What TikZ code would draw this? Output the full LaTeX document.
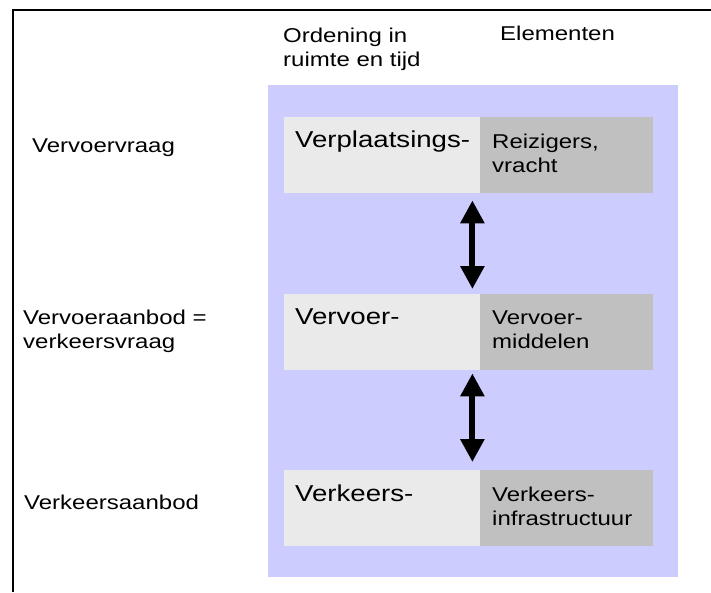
\documentclass[tikz,border=0pt]{standalone}
\usepackage{fontspec}
\newfontfamily\labfont[FakeStretch=1.2]{Liberation Sans}
\usetikzlibrary{arrows.meta}
\definecolor{bgpurple}{HTML}{CCCCFF}
\definecolor{lightfill}{HTML}{EAEAEA}
\definecolor{darkfill}{HTML}{C0C0C0}
\begin{document}
\begin{tikzpicture}[x=1pt,y=-1pt,
  small/.style={font=\labfont\fontsize{20}{24}\selectfont, inner sep=0pt, anchor=base west},
  big/.style={font=\labfont\fontsize{23}{27}\selectfont, inner sep=0pt, anchor=base west},
  panel/.style={fill=bgpurple, draw=none, inner sep=0pt, anchor=north west, minimum width=410pt, minimum height=492pt},
  lbox/.style={fill=lightfill, inner sep=0pt, anchor=north west, minimum width=196pt, minimum height=76pt},
  dbox/.style={fill=darkfill, inner sep=0pt, anchor=north west, minimum width=173pt, minimum height=76pt},
  dbl/.style={line width=6pt, {Triangle[length=23pt,width=23pt]}-{Triangle[length=23pt,width=23pt]}},
  frameline/.style={line width=1.6pt, draw=black}]
\useasboundingbox (0,0) rectangle (711,592);
\fill[white] (0,0) rectangle (711,592);
% frame
\coordinate (fb) at (13,592);
\coordinate (fc) at (13,10);
\coordinate (fr) at (711,10);
\draw[frameline] (fb) -- (fc) -- (fr);
% headers
\node[small] (h1a) at (283,42) {Ordening in};
\node[small] (h1b) at (283,66) {ruimte en tijd};
\node[small] (h2) at (500,40) {Elementen};
% left labels
\node[small] (lv1) at (32,152) {Vervoervraag};
\node[small] (lv2a) at (23,324) {Vervoeraanbod =};
\node[small] (lv2b) at (23,348) {verkeersvraag};
\node[small] (lv3) at (24,509) {Verkeersaanbod};
% panel
\node[panel] (pan) at (268,85) {};
% row boxes
\node[lbox] (l1) at (284,117) {};
\node[dbox] (d1) at (480,117) {};
\node[lbox] (l2) at (284,294) {};
\node[dbox] (d2) at (480,294) {};
\node[lbox] (l3) at (284,470) {};
\node[dbox] (d3) at (480,470) {};
% texts in boxes
\node[big] (t1) at (295,147) {Verplaatsings-};
\node[small] (r1a) at (492,148) {Reizigers,};
\node[small] (r1b) at (492,172) {vracht};
\node[big] (t2) at (295,324) {Vervoer-};
\node[small] (r2a) at (492,324) {Vervoer-};
\node[small] (r2b) at (492,348) {middelen};
\node[big] (t3) at (295,501) {Verkeers-};
\node[small] (r3a) at (492,501) {Verkeers-};
\node[small] (r3b) at (492,525) {infrastructuur};
% arrows
\draw[dbl] ([xshift=-8pt,yshift=-7pt]l1.south east) -- ([xshift=-8pt,yshift=5pt]l2.north east);
\draw[dbl] ([xshift=-8pt,yshift=-3pt]l2.south east) -- ([xshift=-8pt,yshift=8pt]l3.north east);
\end{tikzpicture}
\end{document}
